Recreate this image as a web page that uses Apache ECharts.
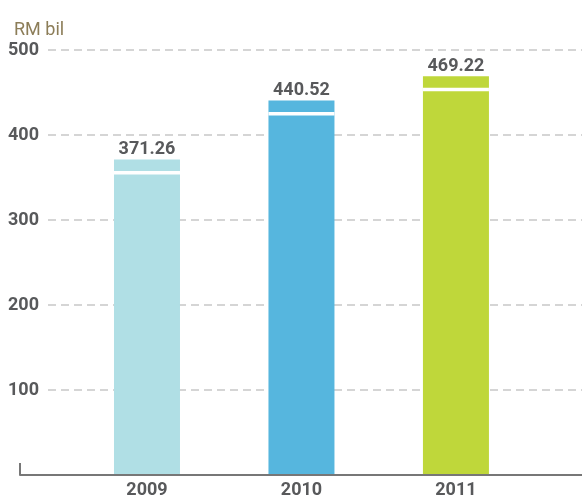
<!DOCTYPE html>
<html>
<head>
<meta charset="utf-8">
<script src="https://cdn.jsdelivr.net/npm/echarts@6/dist/echarts.min.js"></script>
<style>
  html, body { margin: 0; padding: 0; background: #fff; }
  #chart { width: 582px; height: 502px; }
</style>
</head>
<body>
<div id="chart"></div>
<script>
// data
var categories = ['2009', '2010', '2011'];
var values = [371.26, 440.52, 469.22];
var barColors = ['#b0dfe5', '#56b6de', '#bfd73a'];
var yTicks = [100, 200, 300, 400, 500];

var textGray = '#58595b';
var xMin = -0.822, xMax = 2.816;

var myChart = echarts.init(document.getElementById('chart'));

function renderBar(params, api) {
    var x = api.value(0), v = api.value(1);
    var top = api.coord([x, v]);
    var base = api.coord([x, 0]);
    var w = 66;
    return {
        type: 'group',
        children: [
            { type: 'rect', shape: { x: top[0] - w / 2, y: top[1], width: w, height: base[1] - top[1] },
              style: { fill: barColors[params.dataIndex] } },
            { type: 'rect', shape: { x: top[0] - w / 2, y: top[1] + 11.5, width: w, height: 3.5 },
              style: { fill: '#fff' } },
            { type: 'text', x: top[0], y: top[1] - 1,
              style: { text: v.toFixed(2), align: 'center', verticalAlign: 'bottom',
                       fontSize: 18, fontWeight: 'bold', fontFamily: 'Roboto', fill: textGray } }
        ]
    };
}

var option = {
    animation: false,
    title: {
        text: 'RM bil', left: 9, top: 16,
        textStyle: { fontSize: 18, fontWeight: 'normal', color: '#8c7d58', fontFamily: 'Roboto' }
    },
    grid: [
        { left: 20, right: 0, top: 50, bottom: 27 },
        { left: 48, right: 0, top: 50, bottom: 27 }
    ],
    xAxis: [
        {
            gridIndex: 0, type: 'value', min: xMin, max: xMax, z: 3,
            splitLine: { show: false },
            axisLine: { show: true, lineStyle: { color: '#777', width: 2 } },
            axisTick: { show: true, inside: true, length: 12, customValues: [xMin],
                        lineStyle: { color: '#777', width: 2 } },
            axisLabel: {
                customValues: [0, 1, 2],
                formatter: function (v) { return categories[Math.round(v)]; },
                margin: 6, fontSize: 18, fontWeight: 'bold', fontFamily: 'Roboto', color: textGray
            }
        },
        { gridIndex: 1, type: 'value', show: false }
    ],
    yAxis: [
        {
            gridIndex: 0, type: 'value', min: 0, max: 500, interval: 100,
            splitLine: { show: false }, axisLine: { show: false }, axisTick: { show: false },
            axisLabel: { customValues: yTicks, align: 'left', margin: 12, fontSize: 18,
                         fontWeight: 'bold', fontFamily: 'Roboto', color: textGray }
        },
        {
            gridIndex: 1, type: 'value', min: 0, max: 500, interval: 100,
            axisLine: { show: false }, axisTick: { show: false }, axisLabel: { show: false },
            splitLine: { show: true, lineStyle: { type: [8, 5], color: '#c8c8c8', width: 1.5 } }
        }
    ],
    series: [{
        type: 'custom',
        xAxisIndex: 0, yAxisIndex: 0,
        renderItem: renderBar,
        data: values.map(function (v, i) { return [i, v]; })
    }]
};

myChart.setOption(option);
</script>
</body>
</html>
